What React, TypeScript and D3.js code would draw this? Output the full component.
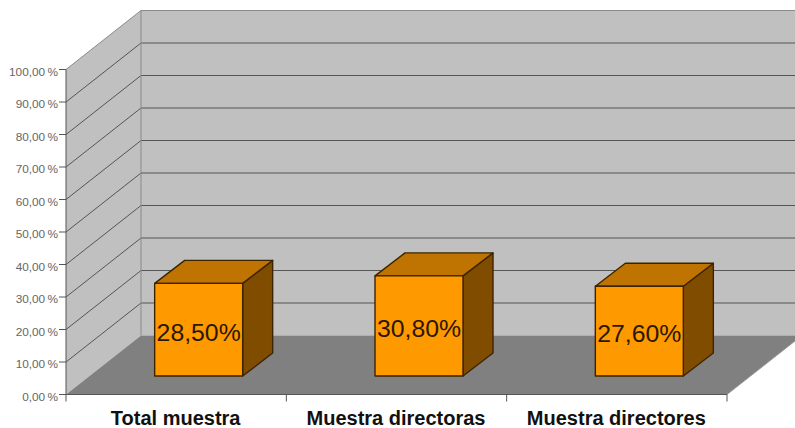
import React from "react";
import * as d3 from "d3";

const categories = ["Total muestra", "Muestra directoras", "Muestra directores"];
const values = [28.5, 30.8, 27.6];
const valueLabels = ["28,50%", "30,80%", "27,60%"];
const yTicks = [0, 10, 20, 30, 40, 50, 60, 70, 80, 90, 100];

const W = 795;
const H = 428;
const FONT = "'Liberation Sans', Arial, sans-serif";

// Oblique projection: the back wall sits up and to the right of the axis plane.
const depth = { dx: 75, dy: -59 };
const barDepth = { dx: 30, dy: -23 };
const barLift = 18.5;

const y = d3.scaleLinear().domain([0, 100]).range([394.5, 69.5]);
const x = d3.scaleBand<string>().domain(categories).range([66, 727]);
const BAR_W = 88;
const BAR_SHIFT = 22.5;

const poly = (pts: [number, number][]) => d3.line()(pts)! + "Z";
const fmt = (v: number) => `${v},00\u2009%`;

export default function App() {
  const y0 = y(0);
  const y100 = y(100);
  const xL = x.range()[0];
  const xR = x.range()[1];
  const backX = xL + depth.dx;
  const ticksX = [...categories.map((c) => x(c)!), xR];

  return (
    <svg
      width={W}
      height={H}
      viewBox={`0 0 ${W} ${H}`}
      style={{ position: "absolute", left: 0, top: 0, background: "#fff" }}
    >
      {/* side wall */}
      <path
        d={poly([
          [xL, y100],
          [backX, y100 + depth.dy],
          [backX, y0 + depth.dy],
          [xL, y0],
        ])}
        fill="#c0c0c0"
      />
      {/* back wall */}
      <rect x={backX} y={y100 + depth.dy} width={W - backX} height={y0 - y100} fill="#c0c0c0" />
      {/* floor */}
      <path
        d={poly([
          [xL, y0],
          [backX, y0 + depth.dy],
          [xR + depth.dx, y0 + depth.dy],
          [xR, y0],
        ])}
        fill="#808080"
      />

      {/* gridlines run along both walls */}
      {yTicks.slice(1).map((t) => (
        <path
          key={t}
          d={`M${xL},${y(t)}L${backX},${y(t) + depth.dy}L${W},${y(t) + depth.dy}`}
          fill="none"
          stroke={t === 100 ? "#8a8a8a" : "#555"}
          strokeWidth={1}
        />
      ))}
      <line x1={backX} x2={backX} y1={y100 + depth.dy} y2={y0 + depth.dy} stroke="#8a8a8a" strokeWidth={1} />
      <line x1={xR} y1={y0} x2={xR + depth.dx} y2={y0 + depth.dy} stroke="#9a9a9a" strokeWidth={1} />

      {/* axes */}
      <line x1={xL} x2={xL} y1={y100} y2={y0} stroke="#555" strokeWidth={1} />
      <line x1={xL} x2={xR} y1={y0} y2={y0} stroke="#555" strokeWidth={1} />
      {yTicks.map((t) => (
        <g key={t}>
          <line x1={xL - 7} x2={xL} y1={y(t)} y2={y(t)} stroke="#555" />
          <text x={xL - 8} y={y(t) + 6} textAnchor="end" fontFamily={FONT} fontSize={11.8} fill="#666">
            {fmt(t)}
          </text>
        </g>
      ))}
      {ticksX.map((tx) => (
        <line key={tx} x1={tx} x2={tx} y1={y0} y2={y0 + 7} stroke="#555" />
      ))}

      {/* 3D bars */}
      {categories.map((c, i) => {
        const left = x(c)! + x.bandwidth() / 2 + BAR_SHIFT - BAR_W / 2;
        const right = left + BAR_W;
        const bottom = y0 - barLift;
        const top = bottom - (y0 - y(values[i]));
        return (
          <g key={c} stroke="#3d2400" strokeWidth={1.4} strokeLinejoin="round">
            <path
              d={poly([
                [right, top],
                [right + barDepth.dx, top + barDepth.dy],
                [right + barDepth.dx, bottom + barDepth.dy],
                [right, bottom],
              ])}
              fill="#804d00"
            />
            <path
              d={poly([
                [left, top],
                [left + barDepth.dx, top + barDepth.dy],
                [right + barDepth.dx, top + barDepth.dy],
                [right, top],
              ])}
              fill="#bf7300"
            />
            <rect x={left} y={top} width={BAR_W} height={bottom - top} fill="#ff9900" />
            <text
              x={(left + right) / 2}
              y={(top + bottom) / 2 + 11}
              textAnchor="middle"
              fontFamily={FONT}
              fontSize={24.8}
              fill="#2b1700"
              stroke="none"
            >
              {valueLabels[i]}
            </text>
          </g>
        );
      })}

      {/* category labels */}
      {categories.map((c) => (
        <text
          key={c}
          x={x(c)! + x.bandwidth() / 2 - 0.5}
          y={425}
          textAnchor="middle"
          fontFamily={FONT}
          fontWeight="bold"
          fontSize={20}
          fill="#111"
        >
          {c}
        </text>
      ))}
    </svg>
  );
}
